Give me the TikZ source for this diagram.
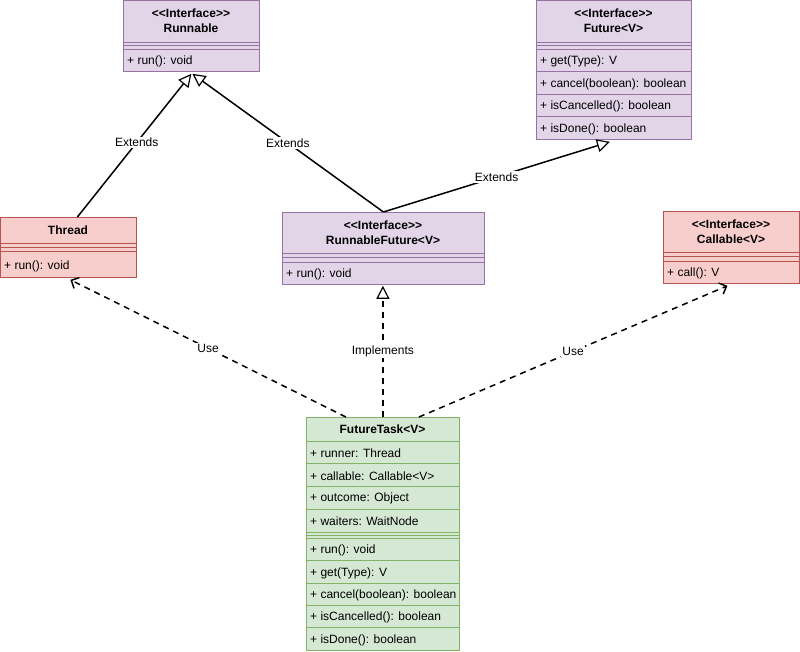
\documentclass[tikz,border=0pt]{standalone}
\usepackage{fontspec}
\setmainfont{Liberation Sans}[Ligatures=TeXOff]
\usetikzlibrary{arrows.meta}
\definecolor{pfill}{HTML}{E1D5E7}
\definecolor{pstroke}{HTML}{9673A6}
\definecolor{rfill}{HTML}{F8CECC}
\definecolor{rstroke}{HTML}{B85450}
\definecolor{gfill}{HTML}{D5E8D4}
\definecolor{gstroke}{HTML}{82B366}
\begin{document}
\begin{tikzpicture}[x=1pt,y=-1pt,
  font=\fontsize{12}{15}\selectfont,
  purpbox/.style={draw=pstroke, fill=pfill, line width=0.8pt, anchor=north west, inner sep=0},
  redbox/.style={draw=rstroke, fill=rfill, line width=0.8pt, anchor=north west, inner sep=0},
  greenbox/.style={draw=gstroke, fill=gfill, line width=0.8pt, anchor=north west, inner sep=0},
  pl/.style={draw=pstroke, line width=0.8pt},
  rl/.style={draw=rstroke, line width=0.8pt},
  gl/.style={draw=gstroke, line width=0.8pt},
  hdr/.style={font=\fontsize{12}{15}\selectfont\bfseries, align=center, inner sep=0},
  row/.style={anchor=west, inner sep=0, yshift=-1pt},
  rel/.style={line width=1.5pt},
  dashrel/.style={line width=1.5pt, dash pattern=on 6pt off 5pt},
  inh/.style={-{Triangle[open, length=13pt, width=13pt, line width=1.2pt]}},
  usearrow/.style={-{Straight Barb[length=6pt, width=12pt, line width=1.5pt]}},
  lbl/.style={fill=white, font=\fontsize{12}{14}\selectfont, inner sep=1.5pt},
]
\useasboundingbox (0,0) rectangle (800,651);

% Runnable
\node[purpbox, minimum width=136pt, minimum height=71pt] (runnable) at (123,0) {};
\draw[pl] (123,42) -- (259,42) (123,45.5) -- (259,45.5) (123,49) -- (259,49);
\node[hdr] (runnableh) at (191,21) {<<Interface>>\\Runnable};
\node[row] (runnable1) at (127,60.5) {+ run(): void};

% Future
\node[purpbox, minimum width=155pt, minimum height=139pt] (future) at (536,0) {};
\draw[pl] (536,42) -- (691,42) (536,45.5) -- (691,45.5) (536,49) -- (691,49)
  (536,71.5) -- (691,71.5) (536,94) -- (691,94) (536,116.5) -- (691,116.5);
\node[hdr] (futureh) at (613.5,21) {<<Interface>>\\Future<V>};
\node[row] (future1) at (540,60.5) {+ get(Type): V};
\node[row] (future2) at (540,83) {+ cancel(boolean): boolean};
\node[row] (future3) at (540,105.5) {+ isCancelled(): boolean};
\node[row] (future4) at (540,128) {+ isDone(): boolean};

% Thread
\node[redbox, minimum width=136pt, minimum height=60pt] (thread) at (0,217) {};
\draw[rl] (0,243) -- (136,243) (0,247) -- (136,247) (0,251) -- (136,251);
\node[hdr] (threadh) at (68,230.5) {Thread};
\node[row] (thread1) at (4,265) {+ run(): void};

% RunnableFuture
\node[purpbox, minimum width=202pt, minimum height=72pt] (rf) at (282,212) {};
\draw[pl] (282,253) -- (484,253) (282,257.5) -- (484,257.5) (282,262) -- (484,262);
\node[hdr] (rfh) at (383,233) {<<Interface>>\\RunnableFuture<V>};
\node[row] (rf1) at (286,273.5) {+ run(): void};

% Callable
\node[redbox, minimum width=136pt, minimum height=72pt] (callable) at (663,211) {};
\draw[rl] (663,252) -- (799,252) (663,256.5) -- (799,256.5) (663,261) -- (799,261);
\node[hdr] (callableh) at (731,232) {<<Interface>>\\Callable<V>};
\node[row] (callable1) at (667,272.5) {+ call(): V};

% FutureTask
\node[greenbox, minimum width=153pt, minimum height=233pt] (ft) at (306,417) {};
\draw[gl] (306,441) -- (459,441) (306,463.5) -- (459,463.5) (306,486) -- (459,486)
  (306,509) -- (459,509) (306,532) -- (459,532) (306,535) -- (459,535) (306,538) -- (459,538)
  (306,560.5) -- (459,560.5) (306,583) -- (459,583) (306,605.5) -- (459,605.5) (306,627.5) -- (459,627.5);
\node[hdr] (fth) at (382.5,429) {FutureTask<V>};
\node[row] (ft1) at (310,452.5) {+ runner: Thread};
\node[row] (ft2) at (310,475) {+ callable: Callable<V>};
\node[row] (ft3) at (310,497.5) {+ outcome: Object};
\node[row] (ft4) at (310,520.5) {+ waiters: WaitNode};
\node[row] (ft5) at (310,549.5) {+ run(): void};
\node[row] (ft6) at (310,572) {+ get(Type): V};
\node[row] (ft7) at (310,594.5) {+ cancel(boolean): boolean};
\node[row] (ft8) at (310,616.5) {+ isCancelled(): boolean};
\node[row] (ft9) at (310,639) {+ isDone(): boolean};

% connectors
\draw[rel, inh] ([xshift=9pt]thread.north) -- ([yshift=-2pt]runnable.south)
  node[lbl, pos=0.52] (l1) {Extends};
\draw[rel, inh] (rf.north) -- ([xshift=1pt,yshift=-2pt]runnable.south)
  node[lbl, pos=0.5] (l2) {Extends};
\draw[rel, inh] (rf.north) -- ([xshift=-4pt,yshift=-2pt]future.south)
  node[lbl, pos=0.5] (l3) {Extends};
\draw[dashrel, usearrow] ([xshift=-37pt]ft.north) -- ([xshift=2pt,yshift=-2pt]thread.south)
  node[lbl, pos=0.5, solid] (l4) {Use};
\draw[dashrel, inh] (ft.north) -- ([xshift=-0.5pt,yshift=-1pt]rf.south)
  node[lbl, pos=0.5, solid] (l5) {Implements};
\draw[dashrel, usearrow] ([xshift=36pt]ft.north) -- ([xshift=-4pt,yshift=-2pt]callable.south)
  node[lbl, pos=0.5, solid] (l6) {Use};
\end{tikzpicture}
\end{document}
